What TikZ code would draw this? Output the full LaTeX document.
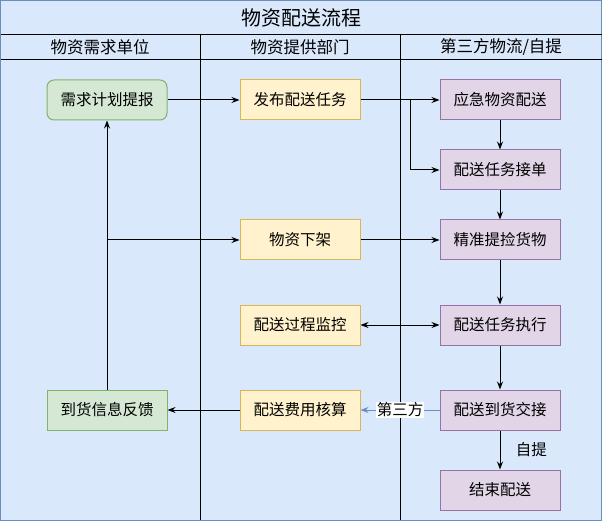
\documentclass[tikz,border=0pt]{standalone}
\usepackage{fontspec}
\setmainfont{Noto Sans CJK SC}
\usepackage{tikz}
\usetikzlibrary{arrows.meta,positioning}
\definecolor{lanebg}{HTML}{DAE8FC}
\definecolor{laneline}{HTML}{6C8EBF}
\definecolor{usrfill}{HTML}{D5E8D4}
\definecolor{usrline}{HTML}{82B366}
\definecolor{depfill}{HTML}{FFF2CC}
\definecolor{depline}{HTML}{D6B656}
\definecolor{logfill}{HTML}{E1D5E7}
\definecolor{logline}{HTML}{9673A6}

\begin{document}
\begin{tikzpicture}[x=1pt,y=-1pt]
				\tikzset{every node/.style={font=\fontsize{15.5}{18}\selectfont}}
				\tikzset{box/.style={minimum width=120pt,minimum height=40pt,inner sep=0pt,line width=1pt}}
				\tikzset{usrbox/.style={box,draw=usrline,fill=usrfill}}
				\tikzset{depbox/.style={box,draw=depline,fill=depfill}}
				\tikzset{logbox/.style={box,draw=logline,fill=logfill}}
				\tikzset{flow/.style={line width=1pt,-{Stealth[length=8pt,width=6pt]}}}
				\useasboundingbox (0,0) rectangle (602,521);
				% lanes
				\draw[line width=1pt,draw=laneline,fill=lanebg] (0.5,0.5) rectangle (601.5,520.5);
				\draw[line width=1pt] (0.5,35) -- (601.5,35) (0.5,60) -- (601.5,60);
				\draw[line width=1pt] (200,35) -- (200,520) (400,35) -- (400,520);
				\node (title) at (301,17.5) {\fontsize{20}{24}\selectfont 物资配送流程};
				\node (lane1) at (100,47.5) {\fontsize{16.5}{20}\selectfont 物资需求单位};
				\node (lane2) at (300,47.5) {\fontsize{16.5}{20}\selectfont 物资提供部门};
				\node (lane3) at (501,47.5) {\fontsize{16.5}{20}\selectfont 第三方物流/自提};
				% nodes
				\node[usrbox,rounded corners=7pt] (xq) at (107,100) {需求计划提报};
				\node[usrbox] (fk) at (107,410) {到货信息反馈};
				\node[depbox] (fb) at (300,100) {发布配送任务};
				\node[depbox] (xj) at (300,240) {物资下架};
				\node[depbox] (jk) at (300,325) {配送过程监控};
				\node[depbox] (fy) at (300,410) {配送费用核算};
				\node[logbox] (yj) at (500,100) {应急物资配送};
				\node[logbox] (jd) at (500,170) {配送任务接单};
				\node[logbox] (jh) at (500,240) {精准提捡货物};
				\node[logbox] (zx) at (500,325) {配送任务执行};
				\node[logbox] (jj) at (500,410) {配送到货交接};
				\node[logbox] (js) at (500,490) {结束配送};
				\coordinate (b1) at (410,100);
				% edges
				\draw[flow] (xq) -- (fb);
				\draw[flow] (fb) -- (yj);
				\draw[flow] (b1) |- (jd);
				\draw[flow] (yj) -- (jd);
				\draw[flow] (jd) -- (jh);
				\draw[flow] (xj) -- (jh);
				\draw[flow] (jh) -- (zx);
				\draw[flow,{Stealth[length=8pt,width=6pt]}-{Stealth[length=8pt,width=6pt]}] (jk) -- (zx);
				\draw[flow] (zx) -- (jj);
				\draw[flow,draw=laneline] (jj) -- node[fill=white,inner sep=1pt] (sf) {第三方} (fy);
				\draw[flow] (jj) -- node[right=12pt] (zt) {自提} (js);
				\draw[flow] (fy) -- (fk);
				\draw[flow] (fk) -- (xq);
				\draw[flow] (fk.north) |- (xj);
			\end{tikzpicture}
\end{document}
